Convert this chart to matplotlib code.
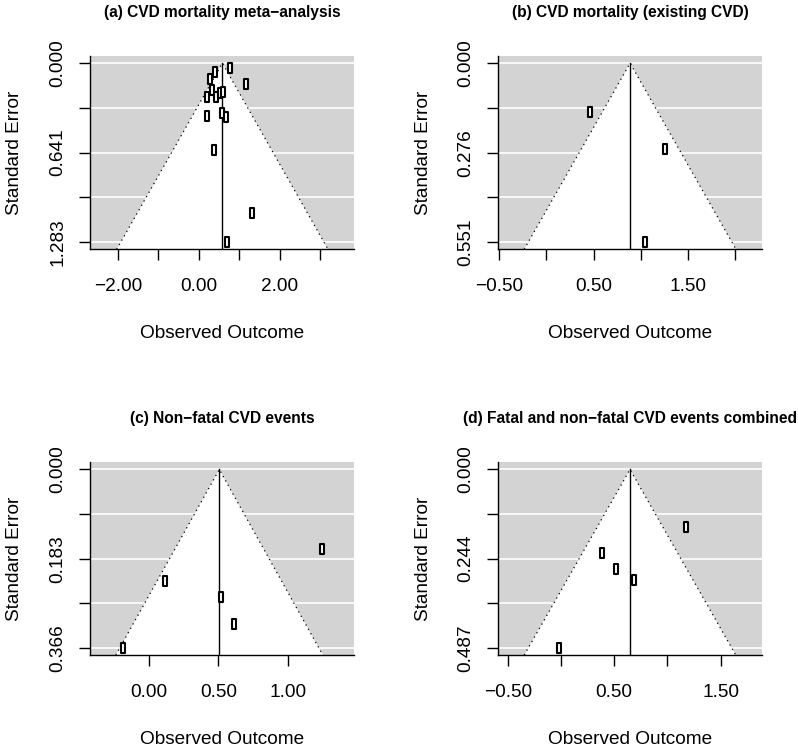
import numpy as np
import matplotlib
matplotlib.use("Agg")
import matplotlib.pyplot as plt
from matplotlib.path import Path
from matplotlib.transforms import ScaledTranslation

plt.rcParams['font.family'] = ['Liberation Sans', 'DejaVu Sans']

# ---- data ----
a_title = "(a) CVD mortality meta\u2212analysis"
a_yi = [0.775, 0.403, 0.272, 1.163, 0.322, 0.213, 0.421, 0.527, 0.601, 0.213, 0.584, 0.668, 0.379, 1.327, 0.693]
a_sei = [0.038, 0.066, 0.114, 0.152, 0.193, 0.245, 0.245, 0.214, 0.207, 0.379, 0.354, 0.383, 0.619, 1.074, 1.283]
a_est = 0.585
a_xticks = [-2, -1, 0, 1, 2, 3]
a_xlabels = ["\u22122.00", "", "0.00", "", "2.00", ""]
a_xlim = (-2.69, 3.85)

b_title = "(b) CVD mortality (existing CVD)"
b_yi = [0.467, 1.255, 1.043]
b_sei = [0.151, 0.264, 0.551]
b_est = 0.888
b_xticks = [-0.5, 0.0, 0.5, 1.0, 1.5, 2.0]
b_xlabels = ["\u22120.50", "", "0.50", "", "1.50", ""]
b_xlim = (-0.51, 2.284)

c_title = "(c) Non\u2212fatal CVD events"
c_yi = [1.250, 0.115, 0.517, 0.615, -0.185]
c_sei = [0.164, 0.228, 0.261, 0.318, 0.366]
c_est = 0.507
c_xticks = [0.0, 0.5, 1.0]
c_xlabels = ["0.00", "0.50", "1.00"]
c_xlim = (-0.425, 1.48)

d_title = "(d) Fatal and non\u2212fatal CVD events combined"
d_yi = [1.171, 0.385, 0.516, 0.689, -0.016]
d_sei = [0.158, 0.229, 0.272, 0.303, 0.4872]
d_est = 0.648
d_xticks = [-0.5, 0.0, 0.5, 1.0, 1.5]
d_xlabels = ["\u22120.50", "", "0.50", "", "1.50"]
d_xlim = (-0.589, 1.885)

FS = 13.7
W, H = 798, 747
fig = plt.figure(figsize=(W / 100, H / 100), dpi=100)

rect_marker = Path([(-0.5, -1), (0.5, -1), (0.5, 1), (-0.5, 1), (-0.5, -1)],
                   [Path.MOVETO, Path.LINETO, Path.LINETO, Path.LINETO, Path.CLOSEPOLY])


def funnel(pos, yi, sei, est, xlim, xticks, xlabels, title):
    ax = fig.add_axes(pos)
    smax = max(sei)
    ybot = smax * 1.04
    ytop = -smax * 0.04
    ax.set_xlim(*xlim)
    ax.set_ylim(ybot, ytop)
    ax.set_facecolor('#D3D3D3')
    yticks = np.linspace(0, smax, 5)
    for y in yticks:
        ax.axhline(y, color='white', lw=1.2, zorder=1)
    ax.fill([est - 1.96 * ybot, est, est + 1.96 * ybot], [ybot, 0, ybot],
            color='white', lw=0, zorder=2)
    ax.plot([est - 1.96 * ybot, est, est + 1.96 * ybot], [ybot, 0, ybot],
            color='black', lw=0.9, linestyle=(0, (1, 3)), zorder=3)
    ax.plot([est, est], [0, ybot], color='black', lw=1.0, zorder=3)
    ax.plot(yi, sei, linestyle='none', marker=rect_marker, ms=6.8,
            mfc='white', mec='black', mew=1.5, zorder=4, clip_on=False)
    for s in ['top', 'right']:
        ax.spines[s].set_visible(False)
    for s in ['left', 'bottom']:
        ax.spines[s].set_linewidth(1.0)
    ax.set_xticks(xticks)
    ax.set_xticklabels(xlabels)
    ax.set_yticks(yticks)
    ax.set_yticklabels([f"{yticks[i]:.3f}" if i % 2 == 0 else "" for i in range(5)])
    ax.tick_params(axis='both', direction='out', length=7.7, width=1.0, labelsize=FS)
    ax.tick_params(axis='x', pad=13)
    ax.tick_params(axis='y', pad=9.5)
    for lab in ax.get_yticklabels():
        lab.set_rotation(90)
        lab.set_va('center')
        lab.set_ha('right')
    ax.set_title(title, fontweight='bold', fontsize=11.2, pad=28)
    tx = ax.transAxes + ScaledTranslation(0, -0.84, fig.dpi_scale_trans)
    ax.text(0.5, 0, "Observed Outcome", transform=tx, ha='center', va='center', fontsize=FS)
    ty = ax.transAxes + ScaledTranslation(-0.75, 0, fig.dpi_scale_trans)
    ax.text(0, 1 - (yticks[2] - ytop) / (ybot - ytop), "Standard Error", transform=ty,
            ha='center', va='center', rotation=90, fontsize=FS)
    return ax


funnel([90 / W, 1 - 249.3 / H, 264.3 / W, 193.3 / H], a_yi, a_sei, a_est, a_xlim, a_xticks, a_xlabels, a_title)
funnel([498.3 / W, 1 - 249.3 / H, 263.4 / W, 193.3 / H], b_yi, b_sei, b_est, b_xlim, b_xticks, b_xlabels, b_title)
funnel([90 / W, 1 - 655 / H, 264.3 / W, 192.7 / H], c_yi, c_sei, c_est, c_xlim, c_xticks, c_xlabels, c_title)
funnel([498.3 / W, 1 - 655 / H, 263.4 / W, 192.7 / H], d_yi, d_sei, d_est, d_xlim, d_xticks, d_xlabels, d_title)

fig.savefig("out.png", dpi=100)
